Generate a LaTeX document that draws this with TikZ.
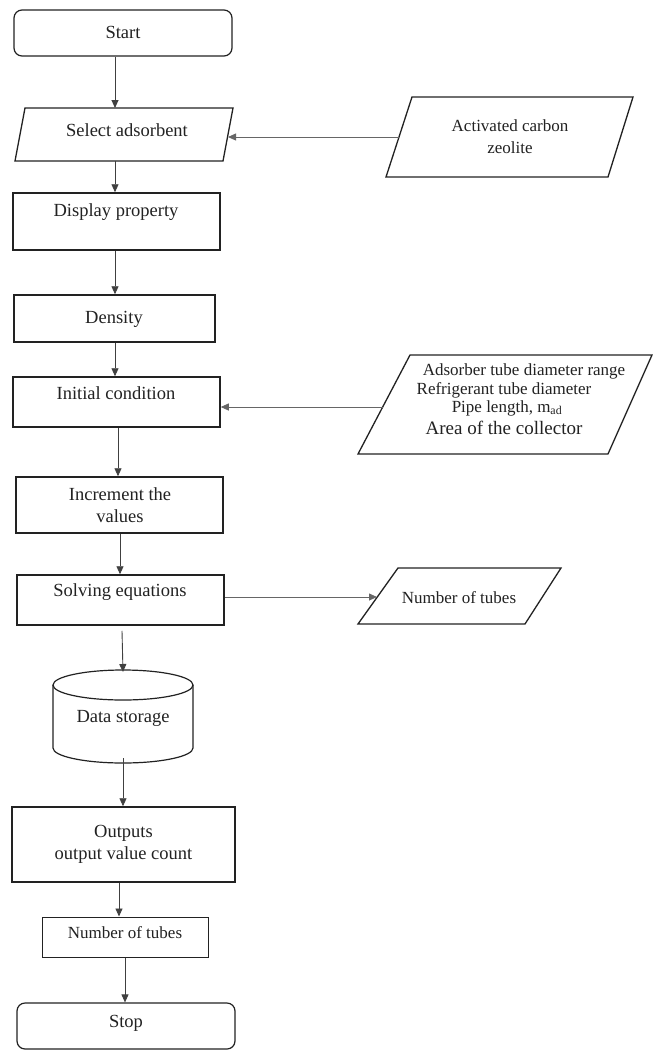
\documentclass[tikz,border=0pt]{standalone}
\usepackage{fontspec}
\setmainfont{Liberation Serif}
\usetikzlibrary{arrows.meta}
\definecolor{ink}{HTML}{222222}
\begin{document}
\begin{tikzpicture}[x=1pt,y=-1pt,
  box/.style={draw=ink,line width=1.5pt,inner sep=0pt,fill=none},
  thinbox/.style={draw=ink,line width=1pt,inner sep=0pt},
  term/.style={draw=ink,line width=1.2pt,rounded corners=8pt,inner sep=0pt},
  io/.style={draw=ink,line width=1.3pt,line join=miter},
  txt/.style={font=\fontsize{18.5}{22}\selectfont,text=ink,inner sep=0pt,align=center},
  smalltxt/.style={font=\fontsize{17}{21}\selectfont,text=ink,inner sep=0pt,align=center},
  conn/.style={draw=black!75,line width=0.9pt,-{Triangle[length=8pt,width=7pt]}},
  hconn/.style={draw=black!60,line width=0.8pt,-{Triangle[length=8pt,width=7pt]}},
]
\useasboundingbox[fill=white] (0,0) rectangle (653,1053);

% ---- main column ----
\node[term,minimum width=218pt,minimum height=46pt] (start) at (123,33) {};
\node[txt] (startT) at (123,32) {Start};

% Select adsorbent (parallelogram)
\coordinate (selTL) at (25,108); \coordinate (selTR) at (233,108);
\coordinate (selBR) at (223,161); \coordinate (selBL) at (15,161);
\draw[io] (selTL) -- (selTR) -- (selBR) -- (selBL) -- cycle;
\node[txt] (sel) at (127,130) {Select adsorbent};
\coordinate (selN) at (115,108); \coordinate (selS) at (115,161);
\coordinate (selE) at (228,137);

\node[box,minimum width=207pt,minimum height=57pt] (disp) at (116.5,221.5) {};
\node[txt] (dispT) at (116,212) {Display property};

\node[box,minimum width=201pt,minimum height=47pt] (dens) at (114.5,318.5) {};
\node[txt] (densT) at (114,319) {Density};

\node[box,minimum width=207pt,minimum height=50pt] (init) at (116.5,402) {};
\node[txt] (initT) at (116,393) {Initial condition};

\node[box,minimum width=207pt,minimum height=56pt] (incr) at (119.5,505) {};
\node[txt] (incrT) at (120,505) {Increment the\\values};

\node[box,minimum width=207pt,minimum height=50pt] (solv) at (120.5,600) {};
\node[txt] (solvT) at (120,592) {Solving equations};

% Data storage (cylinder)
\draw[io,line width=1.2pt] (53,685) -- (53,748) arc[start angle=180,end angle=0,x radius=70,y radius=15] -- (193,685);
\draw[io,line width=1.2pt] (123,685) ellipse[x radius=70,y radius=15];
\node[txt] (data) at (123,718) {Data storage};
\coordinate (dataN) at (123,670); \coordinate (dataS) at (123,763);

\node[box,minimum width=223pt,minimum height=75pt] (outp) at (123.5,844.5) {};
\node[txt] (outpT) at (123.5,844.5) {Outputs\\output value count};

\node[thinbox,minimum width=166pt,minimum height=40pt] (ntub) at (125,937) {};
\node[smalltxt] (ntubT) at (125,933) {Number of tubes};

\node[term,minimum width=218pt,minimum height=46pt] (stop) at (126,1026) {};
\node[txt] (stopT) at (126,1023) {Stop};

% ---- right column ----
% Activated carbon / zeolite
\coordinate (acTL) at (412,97); \coordinate (acTR) at (633,97);
\coordinate (acBR) at (608,177); \coordinate (acBL) at (386,177);
\draw[io] (acTL) -- (acTR) -- (acBR) -- (acBL) -- cycle;
\node[smalltxt,font=\fontsize{17}{22}\selectfont] (act) at (510,137) {Activated carbon\\zeolite};
\coordinate (actW) at (399,137);

% Input parameters
\coordinate (ipTL) at (410,355); \coordinate (ipTR) at (652,355);
\coordinate (ipBR) at (608,454); \coordinate (ipBL) at (358,454);
\draw[io] (ipTL) -- (ipTR) -- (ipBR) -- (ipBL) -- cycle;
\node[smalltxt] (ip1) at (524,371) {Adsorber tube diameter range};
\node[smalltxt] (ip2) at (504,390) {Refrigerant tube diameter};
\node[smalltxt] (ip3) at (507,408) {Pipe length, m\textsubscript{ad}};
\node[txt,font=\fontsize{19}{22}\selectfont] (ip4) at (504,428) {Area of the collector};
\coordinate (ipW) at (383,407);

% Number of tubes (output parallelogram)
\coordinate (ntTL) at (398,568); \coordinate (ntTR) at (561,568);
\coordinate (ntBR) at (525,624); \coordinate (ntBL) at (358,624);
\draw[io] (ntTL) -- (ntTR) -- (ntBR) -- (ntBL) -- cycle;
\node[smalltxt] (ntp) at (459,598) {Number of tubes};
\coordinate (ntpW) at (377,597);

% ---- connectors ----
\draw[conn] ([xshift=-8pt]start.south) -- (selN);
\draw[conn] (selS) -- (selS |- disp.north);
\draw[conn] ([xshift=-1.5pt]disp.south) -- ([xshift=-1.5pt]disp.south |- dens.north);
\draw[conn] ([xshift=0.5pt]dens.south) -- ([xshift=0.5pt]dens.south |- init.north);
\draw[conn] ([xshift=1.5pt]init.south) -- ([xshift=1.5pt]init.south |- incr.north);
\draw[conn] ([xshift=0.5pt]incr.south) -- ([xshift=0.5pt]incr.south |- solv.north);
\draw[conn] ([xshift=1.5pt,yshift=-5pt]solv.south) -- ([yshift=-2pt]dataN);
\draw[conn] ([yshift=5pt]dataS) -- (dataS |- outp.north);
\draw[conn] ([xshift=-4.5pt]outp.south) -- ([xshift=-4.5pt]outp.south |- ntub.north);
\draw[conn] (ntub.south) -- (ntub.south |- stop.north);

\draw[hconn] (actW) -- (selE);
\draw[hconn] (ipW) -- (ipW -| init.east);
\draw[hconn] (ntpW -| solv.east) -- (ntpW);
\end{tikzpicture}
\end{document}
